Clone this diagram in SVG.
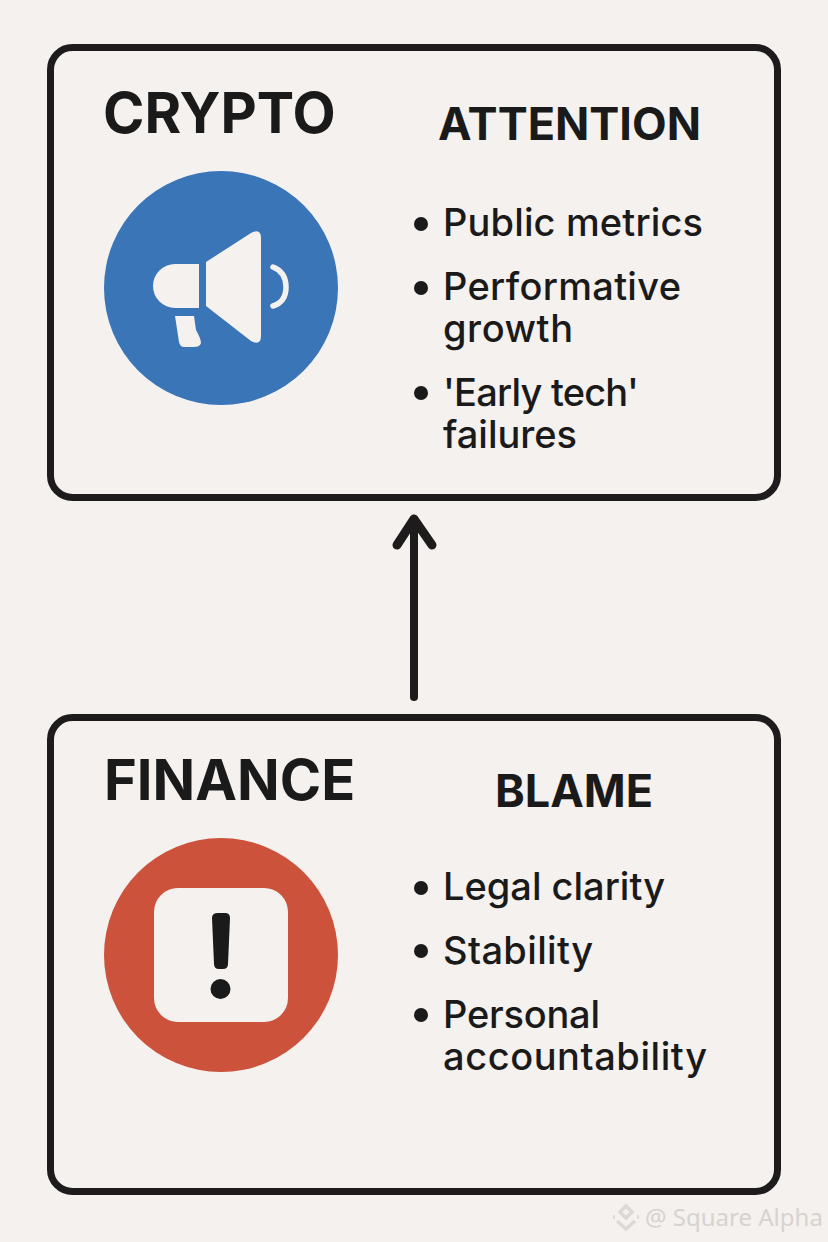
<svg xmlns="http://www.w3.org/2000/svg" width="828" height="1242" viewBox="0 0 828 1242">
<style>
.box{fill:#f4f1ee;stroke:#1d1b1b;stroke-width:7}
text{font-family:Inter,"Liberation Sans",sans-serif;fill:#1b1a1a}
.h1{font-size:56px;font-weight:700}
.h2{font-size:45px;font-weight:700}
.li{font-size:38px;font-weight:500}
.dot{fill:#1b1a1a}
.w{fill:#f4f1ee}
</style>
<rect width="828" height="1242" fill="#f4f1ee"/>
<g id="crypto">
<rect class="box" x="50.500" y="47.500" width="727" height="450" rx="22"/>
<text class="h1" x="103" y="133">CRYPTO</text>
<text class="h2" x="438" y="140">ATTENTION</text>
<circle cx="221" cy="288" r="117" fill="#3a75b8"/>
<path class="w" d="M199 264H175A22 22 0 0 0 175 308H199Z"/>
<path class="w" d="M206 262L251 233Q261 228 261 238V336Q261 346 251 341L206 306Z"/>
<path class="w" d="M175 316H194L196 330Q201 339 201 343Q200 347 194 347H184Q180 347 179 342Z"/>
<path d="M273 267Q286 272 286 287Q286 302 273 306" fill="none" stroke="#f4f1ee" stroke-width="5.500" stroke-linecap="round"/>
<circle class="dot" cx="421" cy="224" r="7"/>
<circle class="dot" cx="421" cy="288" r="7"/>
<circle class="dot" cx="421" cy="393" r="7"/>
<text class="li" x="443" y="236" textLength="260">Public metrics</text>
<text class="li" x="443" y="300" textLength="238">Performative</text>
<text class="li" x="443" y="342" textLength="130">growth</text>
<text class="li" x="443" y="406" textLength="196">'Early tech'</text>
<text class="li" x="443" y="448" textLength="134">failures</text>
</g>
<g id="finance">
<rect class="box" x="50.500" y="717.500" width="727" height="474" rx="22"/>
<text class="h1" x="104" y="800">FINANCE</text>
<text class="h2" x="495" y="807" textLength="158">BLAME</text>
<circle cx="221" cy="955" r="117" fill="#cc523c"/>
<rect class="w" x="154" y="888" width="134" height="134" rx="24"/>
<path class="dot" d="M218 913H225Q230 913 230 918L228 964Q228 969 223 969H219Q214 969 214 964L212 918Q212 913 218 913Z"/>
<circle class="dot" cx="220.500" cy="989" r="10"/>
<circle class="dot" cx="421" cy="888" r="7"/>
<circle class="dot" cx="421" cy="951" r="7"/>
<circle class="dot" cx="421" cy="1015" r="7"/>
<text class="li" x="443" y="900" textLength="222">Legal clarity</text>
<text class="li" x="443" y="964" textLength="150">Stability</text>
<text class="li" x="443" y="1028" textLength="157">Personal</text>
<text class="li" x="443" y="1070" textLength="264">accountability</text>
</g>
<g id="connectors" fill="none" stroke="#1d1b1b" stroke-width="8" stroke-linecap="round" stroke-linejoin="round">
<path d="M414 697V522"/>
<path stroke-width="9" d="M397 545L414 519L432 545"/>
</g>
<g id="watermark">
<g fill="none" stroke="#dbd8d5" stroke-width="3.500">
<path d="M626 1206l6 6-6 6-6-6z"/>
<path d="M615 1217l-2 0M639 1217l-2 0"/>
<path d="M617 1221l9 8 9-8"/>
</g>
<text x="645" y="1226" style="font-family:'Noto Sans',sans-serif;font-size:24px;fill:#d6d3d0">@ Square Alpha</text>
</g>
</svg>
